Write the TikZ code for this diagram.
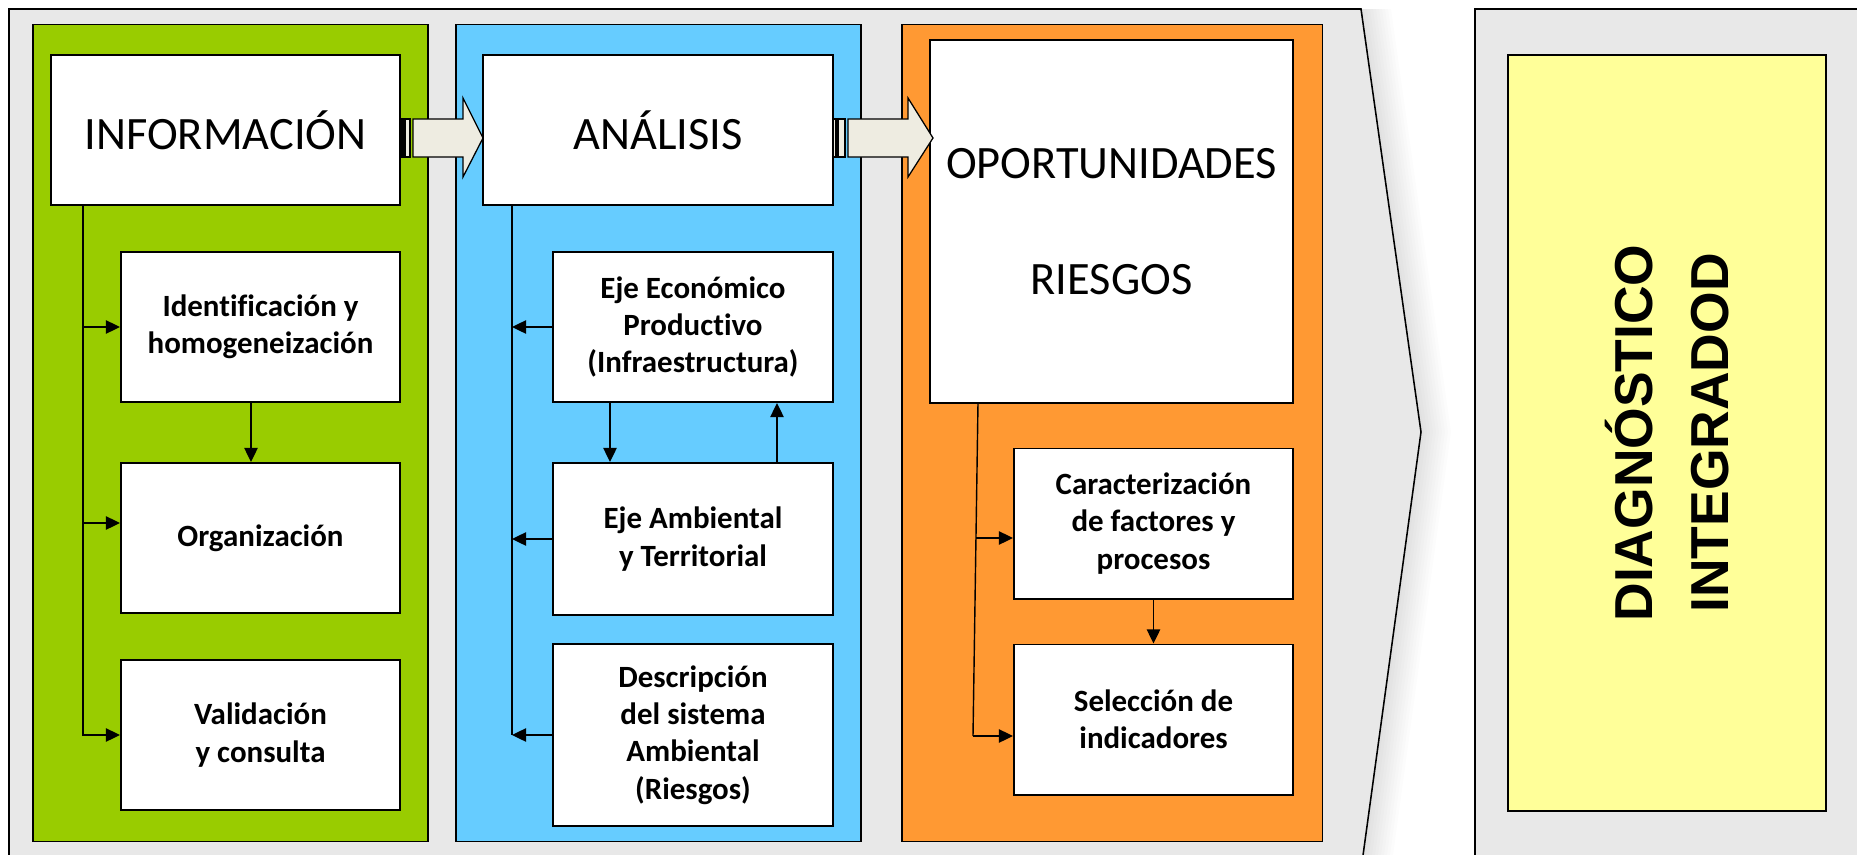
\documentclass[tikz,border=0pt]{standalone}
\usepackage{fontspec}
\setmainfont{Carlito}[Ligatures=CommonOff]
\newfontfamily\diagfont{Liberation Sans}
\usetikzlibrary{arrows.meta,calc}
\definecolor{verde}{HTML}{99CC00}
\definecolor{celeste}{HTML}{66CCFF}
\definecolor{naranja}{HTML}{FF9933}
\definecolor{amarillo}{HTML}{FFFF99}
\definecolor{gris}{HTML}{E8E8E8}
\definecolor{crema}{HTML}{EEECE1}
\begin{document}
\begin{tikzpicture}[x=0.025cm, y=-0.025cm, >={Triangle[length=10pt,width=9.5pt]}, line width=1pt,
	panel/.style={draw, line width=0.8pt, inner sep=0pt},
	head/.style={draw, fill=white, line width=1.4pt, align=center, inner sep=0pt, font=\fontsize{33}{40}\selectfont},
	sub/.style={draw, fill=white, line width=1.4pt, align=center, inner sep=0pt, minimum width=6.975cm, minimum height=3.75cm, font=\bfseries\fontsize{22}{26.5}\selectfont},
	flecha/.style={draw, fill=crema, line width=0.9pt}]
	\useasboundingbox (0,0) rectangle (1857,855);
	\clip (0,0) rectangle (1857,855);
	% sombra y fondo
	\foreach \d in {3,6,...,30}
		\fill[black, opacity=0.01] (9+\d,870) -- (9+\d,9) -- (1361+\d,9) -- (1421+\d,432) -- (1361+\d,870) -- cycle;
	\draw[fill=gris, line width=1.1pt] (9,870) -- (9,9) -- (1361,9) -- (1421,432) -- (1361,870);
	\fill[gris] (1475,9) rectangle (1870,870);
	\draw[line width=1.1pt] (1475,870) -- (1475,9) -- (1870,9);
	% paneles
	\node[panel, fill=verde, minimum width=9.875cm, minimum height=20.4cm] (pinfo) at (230.5,433) {};
	\node[panel, fill=celeste, minimum width=10.125cm, minimum height=20.4cm] (panal) at (658.5,433) {};
	\node[panel, fill=naranja, minimum width=10.5cm, minimum height=20.4cm] (popor) at (1112,433) {};
	% cabeceras
	\node[head, minimum width=8.725cm, minimum height=3.75cm] (info) at (225.5,130) {INFORMACIÓN};
	\node[head, minimum width=8.75cm, minimum height=3.75cm] (anal) at (658,130) {ANÁLISIS};
	\node[head, minimum width=9.075cm, minimum height=9.075cm] (opor) at (1111.5,221.5) {OPORTUNIDADES\\[42pt]RIESGOS};
	% informacion
	\node[sub] (ident) at (260.5,327) {Identificación y\\homogeneización};
	\node[sub] (organ) at (260.5,538) {Organización};
	\node[sub] (valid) at (260.5,735) {Validación\\y consulta};
	\coordinate (gt) at (83,205);
	\coordinate (go) at (83,523);
	\draw[->] (gt) |- (valid.west);
	\draw[->] (gt |- ident.west) -- (ident.west);
	\draw[->] (go) -- (go -| organ.west);
	\draw[->] ($(ident.south)+(-9.5,0)$) -- ($(organ.north)+(-9.5,0)$);
	% analisis
	\node[sub, minimum width=7cm] (eco) at (693,327) {Eje Económico\\Productivo\\(Infraestructura)};
	\node[sub, minimum width=7cm, minimum height=3.8cm] (amb) at (693,539) {Eje Ambiental\\y Territorial};
	\node[sub, minimum width=7cm, minimum height=4.55cm] (desc) at (693,735) {Descripción\\del sistema\\Ambiental\\(Riesgos)};
	\coordinate (bt) at (512,205);
	\draw (bt) -- (bt |- desc.west);
	\draw[->] (eco.west) -- (eco.west -| bt);
	\draw[->] (amb.west) -- (amb.west -| bt);
	\draw[->] (desc.west) -- (desc.west -| bt);
	\draw[->] ($(eco.south)+(-83,0)$) -- ($(amb.north)+(-83,0)$);
	\draw[->] ($(amb.north)+(84,0)$) -- ($(eco.south)+(84,0)$);
	% oportunidades
	\node[sub] (carac) at (1153.5,523.5) {Caracterización\\de factores y\\procesos};
	\node[sub] (selec) at (1153.5,719.5) {Selección de\\indicadores};
	\coordinate (ot) at (978,403);
	\coordinate (om) at (976,538);
	\coordinate (ob) at (973,736);
	\draw (ot) -- (ob);
	\draw[->] (om) -- (om -| carac.west);
	\draw[->] (ob) -- (ob -| selec.west);
	\draw[->] (carac.south) -- (selec.north);
	% flechas rayadas
	\draw[flecha] (401,119) rectangle (403,157);
	\draw[flecha] (405,119) rectangle (410,157);
	\draw[flecha] (413,119) -- (463,119) -- (463,98) -- (483,138) -- (463,177) -- (463,157) -- (413,157) -- cycle;
	\draw[flecha] (833,119) rectangle (836,157);
	\draw[flecha] (838,119) rectangle (845,157);
	\draw[flecha] (848,119) -- (908,119) -- (908,98) -- (933,138) -- (908,177) -- (908,157) -- (848,157) -- cycle;
	% diagnostico
	\node[draw, fill=amarillo, line width=1.4pt, rotate=90, inner sep=0pt, minimum width=18.9cm, minimum height=7.95cm, align=center, font=\diagfont\bfseries\fontsize{38}{54.4}\selectfont] (diag) at (1667,433) {DIAGNÓSTICO\\INTEGRADOD};
\end{tikzpicture}
\end{document}
